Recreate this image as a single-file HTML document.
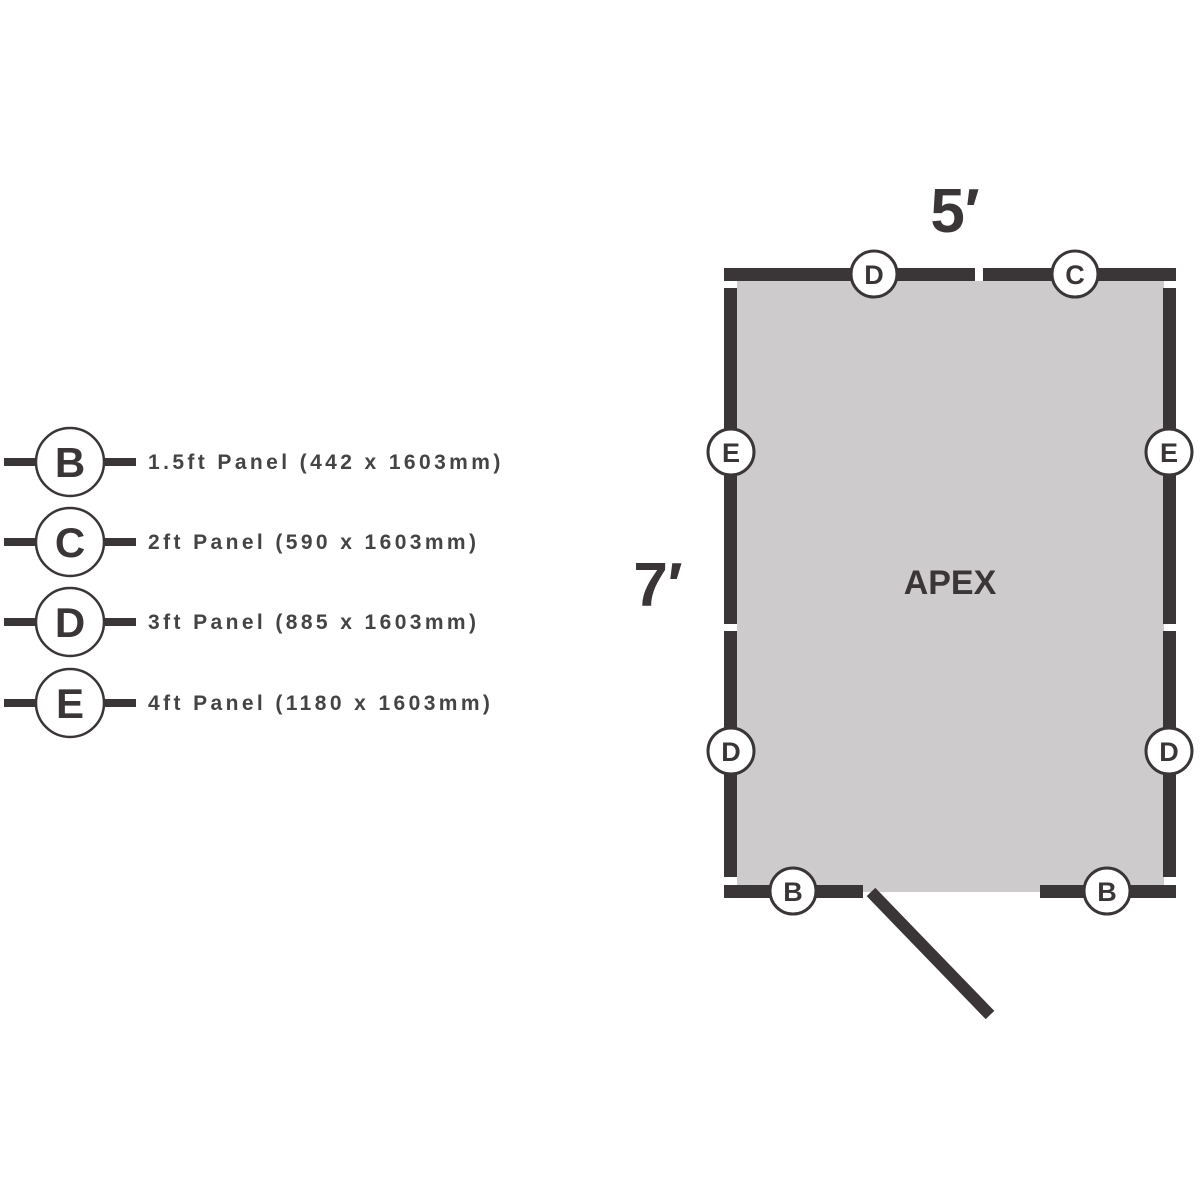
<!DOCTYPE html>
<html><head><meta charset="utf-8"><style>body{margin:0;background:#fff}svg{display:block}</style></head><body>
<svg width="1200" height="1200" xmlns="http://www.w3.org/2000/svg" font-family="Liberation Sans, sans-serif" font-weight="bold">
<rect x="737" y="281" width="427" height="611" fill="#cdcbcc"/>
<g fill="#3a3536">
<rect x="724" y="268" width="251" height="13"/>
<rect x="983" y="268" width="193" height="13"/>
<rect x="724" y="288" width="13" height="336"/>
<rect x="724" y="631" width="13" height="246"/>
<rect x="1163" y="288" width="13" height="336"/>
<rect x="1163" y="631" width="13" height="246"/>
<rect x="724" y="885" width="139" height="13"/>
<rect x="1040" y="885" width="136" height="13"/>
</g>
<line x1="871" y1="892" x2="990" y2="1015" stroke="#3a3536" stroke-width="12"/>
<g fill="#fff" stroke="#3a3536" stroke-width="3">
<circle cx="874" cy="274" r="23"/><circle cx="1075" cy="274" r="23"/>
<circle cx="731" cy="452" r="23"/><circle cx="1169" cy="452" r="23"/>
<circle cx="731" cy="751" r="23"/><circle cx="1169" cy="751" r="23"/>
<circle cx="793" cy="891" r="23"/><circle cx="1107" cy="891" r="23"/>
</g>
<g fill="#3a3536" font-size="27" text-anchor="middle">
<text x="874" y="284">D</text><text x="1075" y="284">C</text>
<text x="731" y="462">E</text><text x="1169" y="462">E</text>
<text x="731" y="761">D</text><text x="1169" y="761">D</text>
<text x="793" y="901">B</text><text x="1107" y="901">B</text>
</g>
<g fill="#3a3536" text-anchor="middle">
<text x="955" y="232" font-size="62">5′</text>
<text x="658" y="606" font-size="62">7′</text>
<text x="950" y="594" font-size="34">APEX</text>
</g>
<g stroke="#3a3536" stroke-width="8">
<line x1="4" y1="462" x2="136" y2="462"/><line x1="4" y1="542" x2="136" y2="542"/>
<line x1="4" y1="622" x2="136" y2="622"/><line x1="4" y1="703" x2="136" y2="703"/>
</g>
<g fill="#fff" stroke="#3a3536" stroke-width="2.5">
<circle cx="70" cy="462" r="34"/><circle cx="70" cy="542" r="34"/>
<circle cx="70" cy="622" r="34"/><circle cx="70" cy="703" r="34"/>
</g>
<g fill="#3a3536" font-size="42" text-anchor="middle">
<text x="70" y="477">B</text><text x="70" y="557">C</text>
<text x="70" y="637">D</text><text x="70" y="718">E</text>
</g>
<g fill="#444" font-size="21" letter-spacing="3.4">
<text x="148" y="469">1.5ft Panel (442 x 1603mm)</text>
<text x="148" y="549">2ft Panel (590 x 1603mm)</text>
<text x="148" y="629">3ft Panel (885 x 1603mm)</text>
<text x="148" y="710">4ft Panel (1180 x 1603mm)</text>
</g>
</svg>
</body></html>
